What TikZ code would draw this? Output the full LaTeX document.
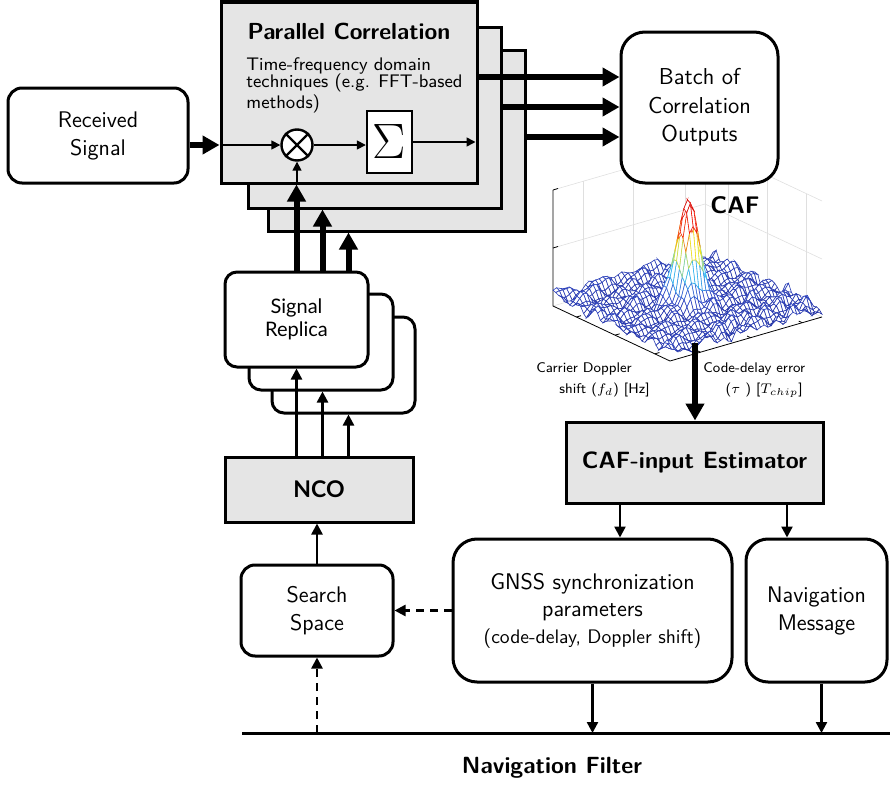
\documentclass[tikz,border=0pt]{standalone}
\usepackage{fontspec}
\usepackage{pgfplots}
\pgfplotsset{compat=1.18}
\usetikzlibrary{arrows.meta,calc}
\newfontfamily\latofont{Lato}

\tikzset{
  blk/.style={draw, line width=1.5pt, fill=gray!20, inner sep=0pt},
  rbox/.style={draw, line width=1.5pt, fill=white, rounded corners=#1, align=center, inner sep=0pt},
  rbox/.default=7pt,
  fat/.style={line width=3pt, -{Triangle[length=8.5pt,width=9pt]}},
  conn/.style={line width=1.2pt, -{Triangle[length=5.5pt,width=5.5pt]}},
  thinarrow/.style={line width=0.8pt, -{Triangle[length=4.5pt,width=4.5pt]}},
  dconn/.style={conn, dash pattern=on 4pt off 3pt},
  cafgrid/.style={gray!25, line width=0.3pt},
  cafaxis/.style={black, line width=0.4pt},
  smalltxt/.style={font=\sffamily\fontsize{7}{9}\selectfont, inner sep=0pt},
}

\begin{document}
\begin{tikzpicture}[x=0.5pt, y=-0.5pt, font=\sffamily\fontsize{11.3}{14}\selectfont]
\useasboundingbox (0,0) rectangle (890,787);

% CAF plot: back walls and axes
\foreach \f in {0.2,0.53,0.87}
  \draw[cafgrid] (553+152*\f, 306-44*\f) -- (553+152*\f, 190-44*\f);
\foreach \g in {0.2,0.53,0.87}
  \draw[cafgrid] (705+117*\g, 262+55*\g) -- (705+117*\g, 146+55*\g);
\draw[cafgrid] (553,248) -- (705,204) -- (822,259);
\draw[cafgrid] (553,190) -- (705,146) -- (822,201);
\draw[cafgrid] (553,306) -- (705,262) -- (822,317);
\draw[cafgrid] (705,262) -- (705,146);
\draw[cafaxis] (553,190) -- (553,306) -- (670,361) -- (822,317);
\foreach \t in {190,248}
  \draw[cafaxis] (553,\t) -- (558,\t-1.5);
\foreach \f in {0.2,0.53,0.87} {
  \draw[cafaxis] (553+117*\f, 306+55*\f) -- ++(4.6,-1.3);
  \draw[cafaxis] (670+152*\f, 361-44*\f) -- ++(-3.5,-1.65);
}
\coordinate (cafo) at (553,306);
\begin{axis}[at={(cafo)}, anchor=origin,
    x={(58.5pt,-27.5pt)}, y={(76pt,22pt)}, z={(0pt,58pt)},
    xmin=0, xmax=1, ymin=0, ymax=1, zmin=0, zmax=1,
    hide axis, clip=false,
    colormap={cafmap}{rgb=(0.1,0.15,0.6) rgb=(0.2,0.3,0.8) rgb=(0.2,0.75,0.95)
      rgb=(0.95,0.9,0.1) rgb=(0.95,0.1,0.05) rgb=(0.8,0,0)},
    point meta min=0, point meta max=1]
  \addplot3[surf, shader=faceted, fill=white, faceted color=mapped color,
    line width=0.3pt, samples=43, samples y=43, domain=0:1, y domain=0:1,
    z buffer=sort]
    {0.87*exp(-((x-0.5)^2+(y-0.5)^2)/0.007) + 0.08
     + 0.028*sin(2300*x+1300*y) + 0.028*sin(1700*y-2900*x+40)
     + 0.022*sin(4100*x*y+70) + 0.018*cos(3100*y+700*x)};
\end{axis}
\node[font=\sffamily\bfseries\fontsize{12}{14}\selectfont] (caflbl) at (735,205) {CAF};
\node[smalltxt, anchor=west] (fdtop) at (536,369) {Carrier Doppler};
\node[smalltxt, anchor=east] (fdbot) at (650,390) {shift ($f_d$) [Hz]};
\node[smalltxt, anchor=west] (tautop) at (703,369) {Code-delay error};
\node[smalltxt, anchor=east] (taubot) at (803,390) {($\tau$ ) [$T_{chip}$]};
\coordinate (cafout) at (695,343);

% Parallel correlation stack
\node[blk, minimum width=128.5pt, minimum height=90.5pt] (corr3) at (396.5,140.5) {};
\node[blk, minimum width=126.5pt, minimum height=90.5pt] (corr2) at (374.5,117.5) {};
\node[blk, minimum width=128pt, minimum height=90.5pt] (corr1) at (349,92.5) {};
\node[font=\sffamily\bfseries\fontsize{11.6}{14}\selectfont] (corrtitle) at (349,31) {Parallel Correlation};
\node[anchor=north west, align=left, inner sep=0pt,
  font=\sffamily\fontsize{9.1}{8.8}\selectfont] (corrnote) at (246,57)
  {Time-frequency domain\\techniques (e.g. FFT-based\\methods)};
\node[draw, circle, line width=1.2pt, fill=white, minimum size=15.5pt, inner sep=0pt] (mix) at (297,145) {};
\draw[line width=1.2pt] (mix.north west) -- (mix.south east) (mix.north east) -- (mix.south west);
\node[draw, line width=1.2pt, fill=white, minimum width=22.5pt, minimum height=31pt, inner sep=0pt,
  font=\fontsize{28}{28}\selectfont] (sumbox) at (389.5,142) {$\Sigma$};

% Received signal and batch
\node[rbox, minimum width=90pt, minimum height=47.5pt] (recv) at (98,135.5) {Received\\Signal};
\node[rbox=12pt, minimum width=78.5pt, minimum height=75.5pt,
  font=\sffamily\fontsize{11.5}{14.25}\selectfont] (batch) at (699.5,107.5) {Batch of\\Correlation\\Outputs};

% Signal replica stack and NCO
\node[rbox=6pt, minimum width=71.5pt, minimum height=48pt] (rep3) at (343.5,365) {};
\node[rbox=6pt, minimum width=72pt, minimum height=48pt] (rep2) at (321,342) {};
\node[rbox=6pt, minimum width=71.5pt, minimum height=47.5pt,
  font=\latofont\fontsize{10}{11.5}\selectfont] (rep1) at (296.5,319.5) {Signal\\Replica};
\node[blk, minimum width=94pt, minimum height=32.5pt,
  font=\latofont\bfseries\fontsize{11.5}{14}\selectfont] (nco) at (319,489.5) {NCO};
\node[rbox, minimum width=76pt, minimum height=45.5pt] (search) at (317,610.5) {Search\\Space};

% Estimator and outputs
\node[blk, minimum width=128.5pt, minimum height=40.5pt,
  font=\sffamily\bfseries\fontsize{11.8}{14}\selectfont] (est) at (694.5,462.5) {CAF-input Estimator};
\node[rbox=12pt, minimum width=139.5pt, minimum height=71.5pt,
  font=\sffamily\fontsize{11.3}{13.5}\selectfont] (gnss) at (592.5,610.5)
  {GNSS synchronization\\parameters\\{\fontsize{9.8}{12.5}\selectfont (code-delay, Doppler shift)}};
\node[rbox=11pt, minimum width=70.5pt, minimum height=71.5pt] (navmsg) at (816.5,610.5) {Navigation\\Message};

% Navigation filter
\coordinate (fl) at (242,733);
\coordinate (fr) at (890,733);
\draw[line width=1.5pt] (fl) -- (fr);
\node[font=\sffamily\bfseries\fontsize{11.7}{14}\selectfont] (navfilt) at (552,768) {Navigation Filter};

% Connectors
\draw[fat] (recv.east |- mix) -- (corr1.west |- mix);
\draw[thinarrow] (corr1.west |- mix) -- (mix.west);
\draw[thinarrow] (corr1.south -| mix) -- (mix.south);
\draw[thinarrow] (mix.east) -- (mix.east -| sumbox.west);
\draw[thinarrow, shorten >=1.5pt] (sumbox.east) -- (sumbox.east -| corr1.east);
\draw[fat] ([yshift=15.25pt]batch.west -| corr1.east) -- ([yshift=15.25pt]batch.west);
\draw[fat] ([yshift=0.25pt]batch.west -| corr2.east) -- ([yshift=0.25pt]batch.west);
\draw[fat] ([yshift=-14.75pt]batch.west -| corr3.east) -- ([yshift=-14.75pt]batch.west);
\draw[fat] (rep1.north) -- (rep1.north |- corr1.south);
\draw[fat] ([xshift=13pt]rep1.north) -- ([xshift=13pt]rep1.north |- corr2.south);
\draw[fat] ([xshift=26pt]rep1.north) -- ([xshift=26pt]rep1.north |- corr3.south);
\draw[conn] (rep1.south |- nco.north) -- (rep1.south);
\draw[conn] ([xshift=13pt]rep1.south |- nco.north) -- ([xshift=13pt]rep1.south |- rep2.south);
\draw[conn] ([xshift=26pt]rep1.south |- nco.north) -- ([xshift=26pt]rep1.south |- rep3.south);
\draw[conn] (search.north) -- (search.north |- nco.south);
\draw[dconn] (gnss.west |- search) -- (search.east);
\draw[dconn] (search.south |- fl) -- (search.south);
\draw[fat] (cafout) -- (cafout |- est.north);
\draw[conn] ([xshift=-37.25pt]est.south) -- ([xshift=-37.25pt]est.south |- gnss.north);
\draw[conn] ([xshift=46.25pt]est.south) -- ([xshift=46.25pt]est.south |- navmsg.north);
\draw[conn] (gnss.south) -- (gnss.south |- fl);
\draw[conn] ([xshift=2.5pt]navmsg.south) -- ([xshift=2.5pt]navmsg.south |- fl);
\end{tikzpicture}
\end{document}
